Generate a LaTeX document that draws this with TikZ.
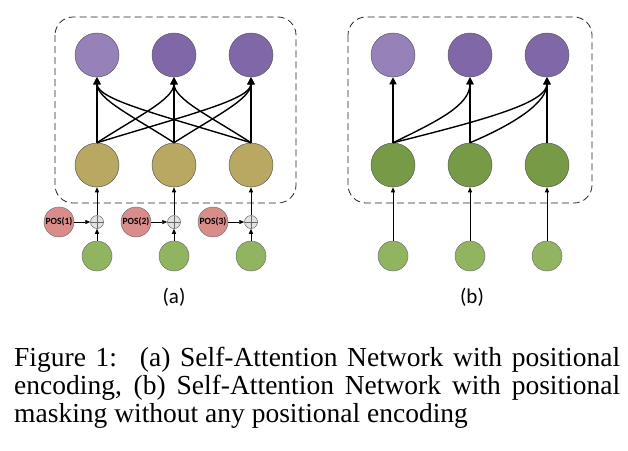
\documentclass[tikz,border=0pt]{standalone}
\usepackage{fontspec}
\setmainfont{Liberation Serif}
\newfontfamily\labelfont{Carlito}
\usetikzlibrary{arrows.meta}
\definecolor{outlight}{HTML}{9682B9}
\definecolor{outdark}{HTML}{8068A8}
\definecolor{hidolive}{HTML}{B8A862}
\definecolor{hidgreen}{HTML}{779A46}
\definecolor{ingreen}{HTML}{90B460}
\definecolor{posred}{HTML}{D98C8A}
\definecolor{plusgray}{HTML}{E2E2E2}
\begin{document}
\begin{tikzpicture}[x=1pt,y=1pt,
  unit/.style={circle,draw=black!65,line width=0.5pt,minimum size=44pt,inner sep=0pt},
  inunit/.style={circle,draw=black!55,line width=0.5pt,minimum size=30pt,inner sep=0pt,fill=ingreen},
  posunit/.style={circle,draw=black!55,line width=0.5pt,minimum size=30pt,inner sep=0pt,fill=posred,
    font=\labelfont\bfseries\fontsize{9.5}{10}\selectfont},
  plusunit/.style={circle,draw=black!60,line width=0.5pt,minimum size=13pt,inner sep=0pt,fill=plusgray,
    path picture={\draw[black!60,line width=0.5pt]
      (path picture bounding box.north) -- (path picture bounding box.south)
      (path picture bounding box.west) -- (path picture bounding box.east);}},
  attn/.style={line width=1.4pt,-{Triangle[length=7pt,width=7pt]}},
  feed/.style={line width=0.8pt,-{Triangle[length=5pt,width=4pt]}},
  group/.style={draw=black!85,line width=0.8pt,dash pattern=on 7pt off 4pt,rounded corners=18pt},
  sublabel/.style={font=\labelfont\fontsize{21}{24}\selectfont}
]
\useasboundingbox (0,0) rectangle (628,-450);

% ---------------- (a) with positional encoding ----------------
\draw[group] (55,-17) rectangle (296,-203);
\foreach \i/\x/\c in {1/97/outlight,2/174/outdark,3/251/outdark}{
  \node[unit,fill=\c] (ao\i) at (\x,-55) {};
  \node[unit,fill=hidolive] (ah\i) at (\x,-165) {};
  \node[plusunit] (ap\i) at (\x,-222) {};
  \node[posunit] (apos\i) at (\x-38,-222) {POS(\i)};
  \node[inunit] (ai\i) at (\x,-256) {};
  \draw[feed] (ai\i) -- (ap\i);
  \draw[feed] (ap\i) -- (ah\i);
  \draw[feed] (apos\i) -- (ap\i);
  \draw[attn] (ah\i) -- (ao\i);
}
% every hidden unit attends to every output unit
\draw[attn] (ah1.north) .. controls +(33:48) and +(-90:22) .. (ao2.south);
\draw[attn] (ah1.north) .. controls +(17:100) and +(-90:22) .. (ao3.south);
\draw[attn] (ah2.north) .. controls +(147:48) and +(-90:22) .. (ao1.south);
\draw[attn] (ah2.north) .. controls +(33:48) and +(-90:22) .. (ao3.south);
\draw[attn] (ah3.north) .. controls +(163:100) and +(-90:22) .. (ao1.south);
\draw[attn] (ah3.north) .. controls +(147:48) and +(-90:22) .. (ao2.south);
\node[sublabel] (la) at (174,-297) {(a)};

% ---------------- (b) with positional masking ----------------
\draw[group] (348,-17) rectangle (592,-203);
\foreach \i/\x/\c in {1/393/outlight,2/470/outdark,3/547/outdark}{
  \node[unit,fill=\c] (bo\i) at (\x,-55) {};
  \node[unit,fill=hidgreen] (bh\i) at (\x,-165) {};
  \node[inunit] (bi\i) at (\x,-256) {};
  \draw[feed] (bi\i) -- (bh\i);
  \draw[attn] (bh\i) -- (bo\i);
}
% masked attention: only towards the current and later positions
\draw[attn] (bh1.north) .. controls +(26:50) and +(-90:28) .. (bo2.south);
\draw[attn] (bh1.north) .. controls +(14:100) and +(-90:25) .. (bo3.south);
\draw[attn] (bh2.north) .. controls +(23:50) and +(-90:25) .. (bo3.south);
\node[sublabel] (lb) at (472,-297) {(b)};

% ---------------- caption ----------------
\node[anchor=base west,inner sep=0pt,text width=606pt,align=justify,
  font=\fontsize{27.5}{28.3}\selectfont] (cap) at (14,-366)
  {\hyphenpenalty=10000\tolerance=9999%
   Figure 1:\hspace{8pt} (a) Self-Attention Network with positional\linebreak
   encoding, (b) Self-Attention Network with positional\linebreak
   masking without any positional encoding};
\end{tikzpicture}
\end{document}
